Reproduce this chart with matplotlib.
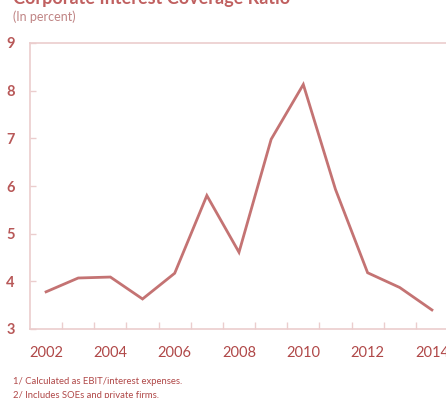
import matplotlib
matplotlib.use("Agg")
import matplotlib.pyplot as plt
from matplotlib import font_manager as fm

years = [2002, 2003, 2004, 2005, 2006, 2007, 2008, 2009, 2010, 2011, 2012, 2013, 2014]
ratio = [3.78, 4.07, 4.09, 3.63, 4.17, 5.80, 4.61, 6.98, 8.13, 5.93, 4.18, 3.87, 3.40]
xtick_years = [2002, 2004, 2006, 2008, 2010, 2012, 2014]
yticks = [3, 4, 5, 6, 7, 8, 9]

names = {f.name for f in fm.fontManager.ttflist}
fam = [n for n in ['Liberation Sans Narrow', 'Lato', 'Roboto'] if n in names][:1]
plt.rcParams['font.family'] = fam + ['DejaVu Sans']

line_c = '#C47373'
text_c = '#B04848'
spine_c = '#EBCDCD'

W, H = 446, 398
fig = plt.figure(figsize=(W / 100, H / 100), dpi=100)
ax = fig.add_axes([30 / W, (H - 329) / H, 418 / W, 286 / H])

ax.plot(years, ratio, color=line_c, lw=2.0, solid_joinstyle='miter')
ax.set_xlim(2001.5, 2014.5)
ax.set_ylim(3, 9)

ax.set_xticks(xtick_years)
ax.set_xticklabels([str(y) for y in xtick_years])
ax.set_xticks([y + 0.5 for y in years[:-1]], minor=True)
ax.tick_params(axis='x', which='major', length=0, pad=12, labelsize=10.5, labelcolor=text_c)
ax.tick_params(axis='x', which='minor', direction='in', length=5, color=spine_c, width=1)
ax.set_yticks(yticks)
ax.tick_params(axis='y', which='major', direction='in', length=4, color=spine_c, width=1,
               pad=11, labelsize=10.5, labelcolor='#B85858')
for lab in ax.get_yticklabels():
    lab.set_fontweight('bold')

for s in ['left', 'bottom', 'top']:
    ax.spines[s].set_color(spine_c)
    ax.spines[s].set_linewidth(1.2)
ax.spines['right'].set_visible(False)

fig.text(13 / W, 1 - 4 / H, 'Corporate Interest Coverage Ratio', color='#C06060',
         fontsize=13, fontweight='bold', va='baseline', ha='left')
fig.text(13 / W, 1 - 17 / H, '(In percent)', color='#C08585', fontsize=9,
         va='center', ha='left')
fig.text(13 / W, 1 - 381 / H, '1/ Calculated as EBIT/interest expenses.', color=text_c,
         fontsize=6.8, va='center', ha='left')
fig.text(13 / W, 1 - 395 / H, '2/ Includes SOEs and private firms.', color=text_c,
         fontsize=6.8, va='center', ha='left')

fig.savefig('out.png', dpi=100)
